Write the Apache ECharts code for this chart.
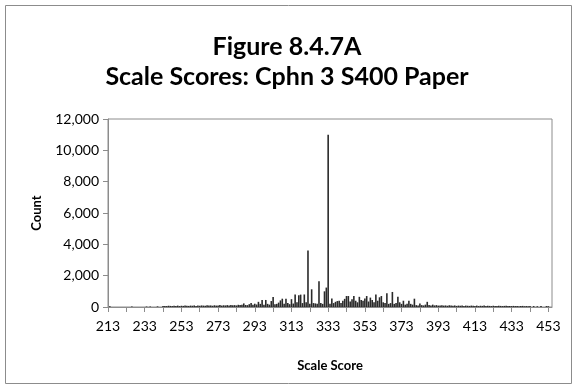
<!DOCTYPE html>
<html><head><meta charset="utf-8">
<script src="https://cdn.jsdelivr.net/npm/echarts@6/dist/echarts.min.js"></script>
<style>html,body{margin:0;padding:0;background:#fff}#c{width:574px;height:388px}</style>
</head><body><div id="c"></div>
<script>
var titleLines = ["Figure 8.4.7A", "Scale Scores: Cphn 3 S400 Paper"];
var xTitle = "Scale Score";
var yTitle = "Count";
var scoreMin = 213, scoreMax = 455;
var yTicks = [0, 2000, 4000, 6000, 8000, 10000, 12000];
// counts for scale scores 213..455 (10 per row)
var counts = [
  0,40,0,0,0,0,0,0,0,0,
  0,0,0,30,0,0,0,0,0,0,
  0,30,0,30,0,0,0,40,0,0,
  60,70,60,80,70,60,80,70,90,60,
  80,70,90,80,70,90,80,100,70,90,
  80,100,90,80,110,90,100,80,110,90,
  100,120,90,110,100,120,90,130,110,120,
  100,140,120,150,230,130,120,180,260,140,
  210,160,330,200,450,150,450,200,150,380,
  640,180,200,280,420,530,200,530,250,180,
  500,220,790,300,750,790,250,800,300,3600,
  200,1130,250,230,200,1650,250,200,1000,1240,
  11000,200,550,250,330,380,400,250,400,520,
  700,700,350,500,700,400,300,650,450,400,
  550,700,350,600,450,300,790,400,620,700,
  300,250,870,200,250,960,200,250,660,300,
  200,400,150,200,400,200,150,530,120,100,
  230,120,100,150,330,120,100,150,100,120,
  90,100,110,90,100,80,110,90,80,100,
  70,90,80,100,70,90,80,70,90,80,
  70,90,60,80,70,90,60,80,70,60,
  80,70,60,80,70,60,70,80,60,70,
  60,70,60,70,50,60,70,50,60,50,
  70,0,60,0,50,0,60,0,0,60,
  50,0,0
];
var scores = [];
for (var s = scoreMin; s <= scoreMax; s++) scores.push(String(s));

var chart = echarts.init(document.getElementById('c'), null, {renderer: 'canvas'});
var font = 'Lato, "Open Sans", sans-serif';
chart.setOption({
  animation: false,
  backgroundColor: '#fff',
  graphic: [{
    type: 'rect', shape: {x: 5.5, y: 5.5, width: 566, height: 378},
    style: {fill: 'none', stroke: '#8c8c8c', lineWidth: 1}, silent: true
  }],
  title: [{
    text: titleLines[0], left: 'center', top: 29,
    textStyle: {fontFamily: font, fontWeight: 'bold', fontSize: 25, color: '#000'}
  }, {
    text: titleLines[1], left: 'center', top: 59,
    textStyle: {fontFamily: font, fontWeight: 'bold', fontSize: 25, color: '#000'}
  }],
  grid: {left: 108, right: 22, top: 119, bottom: 81, show: true, borderColor: '#8c8c8c', borderWidth: 1},
  xAxis: {
    type: 'category', data: scores, boundaryGap: false,
    name: xTitle, nameLocation: 'middle', nameGap: 52,
    nameTextStyle: {fontFamily: font, fontWeight: 'bold', fontSize: 13, color: '#000'},
    axisLine: {lineStyle: {color: '#8c8c8c'}},
    axisTick: {interval: 9, length: 5, lineStyle: {color: '#8c8c8c'}},
    axisLabel: {interval: 19, fontFamily: font, fontSize: 14, color: '#000', margin: 12}
  },
  yAxis: {
    type: 'value', min: yTicks[0], max: yTicks[yTicks.length - 1], interval: yTicks[1] - yTicks[0],
    name: yTitle, nameLocation: 'middle', nameGap: 65, nameRotate: 90,
    nameTextStyle: {fontFamily: font, fontWeight: 'bold', fontSize: 13, color: '#000'},
    axisLine: {show: true, lineStyle: {color: '#8c8c8c'}},
    axisTick: {show: true, length: 5, lineStyle: {color: '#8c8c8c'}},
    splitLine: {show: false},
    axisLabel: {fontFamily: font, fontSize: 14, color: '#000', margin: 9,
      formatter: function (v) { return v.toLocaleString('en-US'); }}
  },
  series: [{
    type: 'bar', data: counts, barWidth: 1.6,
    itemStyle: {color: '#2a2a2a'}
  }]
});
</script></body></html>
